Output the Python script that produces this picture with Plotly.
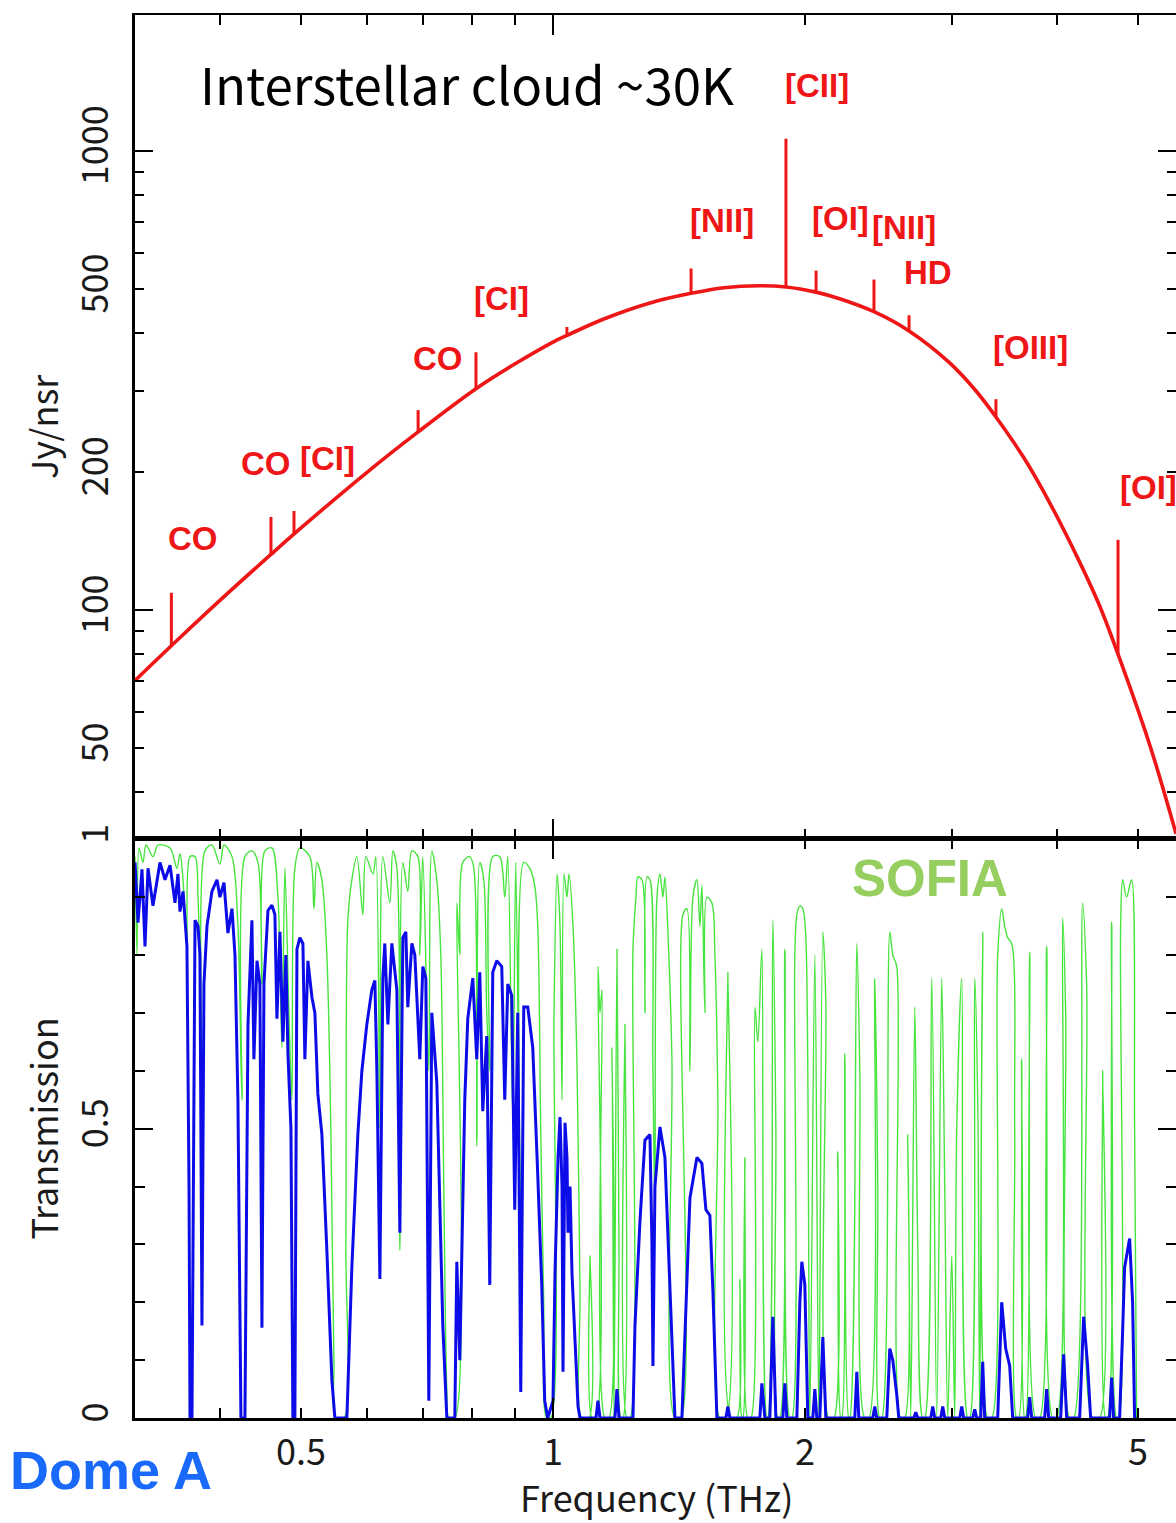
import math
import plotly.graph_objects as go

# ---------------- data ----------------
# Interstellar cloud (~30 K) continuum, Jy/nsr
CURVE_FREQ = [0.3167, 0.352, 0.400, 0.4603, 0.4984, 0.599, 0.690, 0.809, 0.900, 1.000,
              1.039, 1.150, 1.306, 1.462, 1.600, 1.767, 1.898, 2.062, 2.200, 2.418,
              2.663, 2.978, 3.200, 3.382, 3.660, 3.921, 4.258, 4.498, 4.732, 5.168, 5.551]
CURVE_FLUX = [70.1, 84.3, 104.8, 132.0, 150.0, 199.0, 244.0, 303.0, 343.0, 383.0,
              396.0, 430.0, 466.0, 489.0, 503.0, 508.0, 505.0, 492.0, 476.0, 446.0,
              405.0, 345.0, 300.0, 263.0, 213.0, 171.0, 127.0, 102.0, 80.0, 50.5, 32.5]

# Emission lines drawn as vertical bars on the continuum
LINE_FREQ = [0.350, 0.4603, 0.4904, 0.690, 0.809, 1.039, 1.462, 1.898, 2.062, 2.418, 2.663, 3.382, 4.732]
LINE_BASE = [83.6, 132.0, 145.5, 244.0, 303.0, 396.0, 489.0, 505.0, 492.0, 446.0, 405.0, 263.0, 80.0]
LINE_TOP = [108.9, 159.3, 164.1, 272.2, 363.9, 413.0, 554.0, 1062.0, 548.0, 524.0, 438.0, 287.5, 142.0]

LABEL_TEXT = ["CO", "CO", "[CI]", "CO", "[CI]", "[NII]", "[CII]", "[OI]", "[NII]", "HD", "[OIII]", "[OI]"]
LABEL_FREQ = [0.3714, 0.4540, 0.5383, 0.7284, 0.8685, 1.5913, 2.0663, 2.2072, 2.6246, 2.8036, 3.7212, 4.7265]
LABEL_FLUX = [142.7, 208.7, 214.0, 353.0, 476.9, 704.4, 1384.0, 711.5, 680.0, 543.0, 373.0, 185.1]

# SOFIA atmospheric transmission (green)
SOFIA_FREQ = [
    0.3167, 0.3184, 0.3202, 0.3237, 0.3264, 0.3328, 0.3373, 0.3487, 0.3554, 0.3584,
    0.3614, 0.3654, 0.3684, 0.3735, 0.3766, 0.3807, 0.3839, 0.3913, 0.4000, 0.4045,
    0.4135, 0.4203, 0.4250, 0.4285, 0.4368, 0.4441, 0.4490, 0.4527, 0.4615, 0.4692,
    0.4744, 0.4783, 0.4836, 0.4876, 0.4916, 0.4984, 0.5123, 0.5180, 0.5223, 0.5295,
    0.5368, 0.5427, 0.5473, 0.5503, 0.5625, 0.5656, 0.5687, 0.5750, 0.5830, 0.5927,
    0.5976, 0.6093, 0.6143, 0.6211, 0.6262, 0.6384, 0.6436, 0.6508, 0.6562, 0.6616,
    0.6707, 0.6782, 0.6895, 0.6932, 0.6990, 0.7106, 0.7165, 0.7264, 0.7344, 0.7405,
    0.7467, 0.7508, 0.7633, 0.7675, 0.7738, 0.7802, 0.7954, 0.8042, 0.8109, 0.8176,
    0.8266, 0.8334, 0.8403, 0.8473, 0.8638, 0.8757, 0.8830, 0.8952, 0.9026, 0.9151,
    0.9227, 0.9380, 0.9510, 0.9589, 0.9668, 0.9748, 0.9829, 0.9938, 1.0028, 1.0111,
    1.0194, 1.0251, 1.0307, 1.0392, 1.0450, 1.0565, 1.0682, 1.0771, 1.0830, 1.1040,
    1.1071, 1.1132, 1.1255, 1.1317, 1.1379, 1.1442, 1.1537, 1.1664, 1.1761, 1.1826,
    1.1924, 1.1990, 1.2056, 1.2122, 1.2189, 1.2256, 1.2358, 1.2460, 1.2563, 1.2632,
    1.2772, 1.2878, 1.2949, 1.3056, 1.3164, 1.3237, 1.3310, 1.3420, 1.3531, 1.3606,
    1.3718, 1.3870, 1.3985, 1.4217, 1.4296, 1.4454, 1.4574, 1.4694, 1.4857, 1.4980,
    1.5062, 1.5187, 1.5271, 1.5482, 1.5610, 1.5740, 1.5827, 1.6090, 1.6178, 1.6312,
    1.6584, 1.6721, 1.6813, 1.6859, 1.6952, 1.7093, 1.7234, 1.7425, 1.7569, 1.7763,
    1.8009, 1.8059, 1.8309, 1.8461, 1.8562, 1.8665, 1.8923, 1.9185, 1.9290, 1.9450,
    1.9558, 1.9720, 1.9883, 2.0048, 2.0269, 2.0550, 2.0777, 2.1007, 2.1181, 2.1356,
    2.1651, 2.1891, 2.2072, 2.2133, 2.2316, 2.2563, 2.2625, 2.3065, 2.3256, 2.3578,
    2.3838, 2.4235, 2.4435, 2.4570, 2.4705, 2.5255, 2.5464, 2.5745, 2.6030, 2.6318,
    2.6536, 2.6756, 2.7052, 2.7276, 2.7653, 2.7806, 2.8346, 2.8738, 2.9136, 2.9377,
    2.9620, 2.9948, 3.0196, 3.0362, 3.0783, 3.1294, 3.1467, 3.1903, 3.2167, 3.2344,
    3.2612, 3.3063, 3.3429, 3.3985, 3.4361, 3.4645, 3.4932, 3.5318, 3.5611, 3.5807,
    3.6005, 3.6302, 3.6603, 3.6704, 3.7110, 3.7727, 3.8144, 3.8885, 3.9532, 3.9969,
    4.0634, 4.0971, 4.1424, 4.1881, 4.2930, 4.3405, 4.4127, 4.4985, 4.5357, 4.5733,
    4.5985, 4.6493, 4.7137, 4.7396, 4.7658, 4.7921, 4.8450, 4.9121, 4.9528, 4.9801,
]
SOFIA_TRANS = [
    0.97, 0.80, 0.985, 0.96, 0.99, 0.97, 0.99, 0.985, 0.95, 0.975,
    0.93, 0.81, 0.97, 0.97, 0.90, 0.60, 0.98, 0.99, 0.957, 0.99,
    0.97, 0.85, 0.55, 0.97, 0.98, 0.96, 0.75, 0.98, 0.985, 0.90,
    0.64, 0.95, 0.70, 0.55, 0.95, 0.985, 0.97, 0.88, 0.96, 0.93,
    0.80, 0.50, 0.10, 0.0, 0.0, 0.30, 0.86, 0.93, 0.97, 0.87,
    0.97, 0.94, 0.97, 0.50, 0.97, 0.89, 0.98, 0.95, 0.29, 0.96,
    0.91, 0.98, 0.97, 0.80, 0.97, 0.60, 0.98, 0.93, 0.80, 0.40,
    0.05, 0.0, 0.0, 0.89, 0.80, 0.96, 0.97, 0.95, 0.47, 0.96,
    0.93, 0.70, 0.60, 0.97, 0.97, 0.90, 0.97, 0.52, 0.96, 0.30,
    0.96, 0.95, 0.92, 0.85, 0.50, 0.20, 0.0, 0.0, 0.70, 0.94,
    0.85, 0.55, 0.94, 0.90, 0.94, 0.85, 0.61, 0.22, 0.0, 0.0,
    0.28, 0.0, 0.0, 0.78, 0.70, 0.74, 0.0, 0.0, 0.64, 0.0,
    0.81, 0.30, 0.0, 0.0, 0.68, 0.0, 0.0, 0.81, 0.90, 0.935,
    0.93, 0.70, 0.935, 0.93, 0.60, 0.35, 0.90, 0.94, 0.90, 0.935,
    0.84, 0.62, 0.0, 0.0, 0.87, 0.88, 0.60, 0.90, 0.93, 0.85,
    0.92, 0.70, 0.90, 0.89, 0.80, 0.55, 0.0, 0.0, 0.77, 0.0,
    0.0, 0.24, 0.0, 0.0, 0.45, 0.0, 0.0, 0.71, 0.65, 0.81,
    0.0, 0.0, 0.86, 0.50, 0.0, 0.0, 0.81, 0.0, 0.0, 0.80,
    0.87, 0.885, 0.88, 0.83, 0.0, 0.80, 0.0, 0.84, 0.72, 0.0,
    0.0, 0.46, 0.0, 0.0, 0.63, 0.0, 0.0, 0.82, 0.60, 0.0,
    0.0, 0.76, 0.40, 0.0, 0.0, 0.84, 0.80, 0.78, 0.0, 0.0,
    0.49, 0.0, 0.71, 0.30, 0.0, 0.0, 0.76, 0.0, 0.76, 0.40,
    0.0, 0.28, 0.0, 0.50, 0.76, 0.0, 0.0, 0.76, 0.55, 0.0,
    0.84, 0.0, 0.0, 0.80, 0.88, 0.85, 0.83, 0.82, 0.50, 0.0,
    0.0, 0.62, 0.0, 0.0, 0.805, 0.0, 0.0, 0.815, 0.0, 0.0,
    0.864, 0.70, 0.0, 0.0, 0.89, 0.75, 0.0, 0.0, 0.60, 0.0,
    0.0, 0.857, 0.0, 0.0, 0.85, 0.93, 0.90, 0.93, 0.50, 0.0,
]

# Dome A atmospheric transmission (blue)
DOMEA_FREQ = [
    0.3167, 0.3193, 0.3228, 0.3255, 0.3282, 0.3327, 0.3392, 0.3439, 0.3487, 0.3535,
    0.3564, 0.3584, 0.3614, 0.3653, 0.3674, 0.3684, 0.3704, 0.3724, 0.3735, 0.3766,
    0.3786, 0.3807, 0.3828, 0.3860, 0.3913, 0.3968, 0.4000, 0.4045, 0.4089, 0.4135,
    0.4169, 0.4203, 0.4238, 0.4285, 0.4321, 0.4368, 0.4392, 0.4429, 0.4465, 0.4490,
    0.4515, 0.4565, 0.4615, 0.4653, 0.4679, 0.4718, 0.4757, 0.4796, 0.4823, 0.4863,
    0.4889, 0.4916, 0.4944, 0.4984, 0.5026, 0.5053, 0.5095, 0.5152, 0.5194, 0.5237,
    0.5295, 0.5368, 0.5443, 0.5488, 0.5672, 0.5750, 0.5846, 0.5911, 0.5992, 0.6075,
    0.6126, 0.6160, 0.6211, 0.6262, 0.6296, 0.6349, 0.6419, 0.6508, 0.6562, 0.6616,
    0.6671, 0.6707, 0.6782, 0.6838, 0.6932, 0.6990, 0.7048, 0.7106, 0.7165, 0.7264,
    0.7324, 0.7385, 0.7467, 0.7633, 0.7675, 0.7738, 0.7845, 0.7910, 0.8020, 0.8108,
    0.8176, 0.8243, 0.8334, 0.8403, 0.8473, 0.8567, 0.8685, 0.8757, 0.8830, 0.8927,
    0.9001, 0.9076, 0.9151, 0.9227, 0.9329, 0.9458, 0.9589, 0.9695, 0.9775, 0.9856,
    1.0000, 1.0055, 1.0139, 1.0194, 1.0251, 1.0279, 1.0336, 1.0392, 1.0421, 1.0479,
    1.0536, 1.0624, 1.0712, 1.0771, 1.1255, 1.1317, 1.1379, 1.1858, 1.1924, 1.1990,
    1.2460, 1.2529, 1.2702, 1.2878, 1.3056, 1.3128, 1.3164, 1.3237, 1.3420, 1.3606,
    1.3718, 1.3870, 1.3985, 1.4257, 1.4454, 1.4574, 1.4857, 1.5062, 1.5229, 1.5397,
    1.5525, 1.5696, 1.6090, 1.6178, 1.6268, 1.7666, 1.7763, 1.7911, 1.8158, 1.8309,
    1.8461, 1.8819, 1.8923, 1.9027, 1.9558, 1.9720, 1.9828, 1.9992, 2.0158, 2.0437,
    2.0550, 2.0663, 2.0834, 2.1007, 2.1181, 2.2938, 2.3065, 2.3192, 2.4102, 2.4235,
    2.4368, 2.5048, 2.5255, 2.5464, 2.5745, 2.5888, 2.6977, 2.7126, 2.7276, 2.8268,
    2.8424, 2.8581, 2.9056, 2.9216, 2.9377, 3.0614, 3.0783, 3.0952, 3.1727, 3.1903,
    3.2078, 3.2433, 3.2612, 3.2792, 3.3985, 3.4361, 3.4741, 3.5125, 3.5416, 3.6906,
    3.7110, 3.7315, 3.8672, 3.8885, 3.9100, 4.0411, 4.0746, 4.1083, 4.2578, 4.3049,
    4.3525, 4.3885, 4.6238, 4.6493, 4.6750, 4.7527, 4.7921, 4.8185, 4.8852, 4.9256,
    4.9528, 4.9801,
]
DOMEA_TRANS = [
    0.96, 0.856, 0.948, 0.815, 0.95, 0.885, 0.96, 0.93, 0.955, 0.89,
    0.94, 0.875, 0.91, 0.815, 0.40, 0.0, 0.0, 0.60, 0.86, 0.85,
    0.80, 0.16, 0.75, 0.85, 0.91, 0.93, 0.90, 0.925, 0.838, 0.88,
    0.80, 0.55, 0.0, 0.0, 0.68, 0.86, 0.62, 0.79, 0.75, 0.156,
    0.75, 0.877, 0.886, 0.87, 0.69, 0.84, 0.65, 0.80, 0.63, 0.50,
    0.0, 0.0, 0.81, 0.83, 0.82, 0.62, 0.79, 0.727, 0.70, 0.56,
    0.49, 0.29, 0.065, 0.0, 0.0, 0.26, 0.49, 0.60, 0.68, 0.74,
    0.756, 0.60, 0.24, 0.76, 0.82, 0.68, 0.82, 0.74, 0.32, 0.83,
    0.84, 0.71, 0.82, 0.80, 0.62, 0.78, 0.76, 0.03, 0.70, 0.58,
    0.39, 0.16, 0.0, 0.0, 0.27, 0.10, 0.55, 0.69, 0.76, 0.62,
    0.77, 0.53, 0.66, 0.23, 0.77, 0.79, 0.78, 0.55, 0.75, 0.73,
    0.36, 0.70, 0.045, 0.71, 0.71, 0.64, 0.42, 0.23, 0.03, 0.0,
    0.03, 0.25, 0.45, 0.52, 0.40, 0.08, 0.51, 0.45, 0.32, 0.40,
    0.25, 0.12, 0.02, 0.0, 0.0, 0.03, 0.0, 0.0, 0.05, 0.0,
    0.0, 0.16, 0.34, 0.48, 0.49, 0.30, 0.09, 0.40, 0.503, 0.45,
    0.32, 0.16, 0.0, 0.0, 0.23, 0.38, 0.45, 0.44, 0.36, 0.35,
    0.22, 0.0, 0.0, 0.02, 0.0, 0.0, 0.06, 0.0, 0.0, 0.175,
    0.0, 0.0, 0.06, 0.0, 0.0, 0.20, 0.27, 0.23, 0.0, 0.0,
    0.05, 0.0, 0.0, 0.14, 0.0, 0.0, 0.08, 0.0, 0.0, 0.02,
    0.0, 0.0, 0.12, 0.10, 0.04, 0.0, 0.0, 0.01, 0.0, 0.0,
    0.02, 0.0, 0.0, 0.02, 0.0, 0.0, 0.02, 0.0, 0.0, 0.015,
    0.0, 0.0, 0.097, 0.0, 0.0, 0.20, 0.12, 0.09, 0.0, 0.0,
    0.036, 0.0, 0.0, 0.05, 0.0, 0.0, 0.11, 0.0, 0.0, 0.175,
    0.09, 0.0, 0.0, 0.07, 0.0, 0.0, 0.15, 0.26, 0.31, 0.20,
    0.0, 0.0,
]

X_TICKS = [0.5, 1, 2, 5]
X_TICK_TEXT = ["0.5", "1", "2", "5"]
X_MINOR = [0.4, 0.6, 0.7, 0.8, 0.9, 3, 4]
FLUX_TICKS = [50, 100, 200, 500, 1000]
FLUX_TICK_TEXT = ["50", "100", "200", "500", "1000"]
FLUX_MINOR = [40, 60, 70, 80, 90, 300, 400, 600, 700, 800, 900]
FLUX_DECADES = [100, 1000]
TRANS_TICKS = [0, 0.5, 1]
TRANS_TICK_TEXT = ["0", "0.5", "1"]

# ---------------- styling ----------------
RED = "rgb(238,22,22)"
BLUE = "rgb(12,12,232)"
GREEN = "rgb(72,228,62)"
SANS = "Noto Sans CJK JP, Noto Sans, sans-serif"
TICK_FONT = dict(family=SANS, size=36, color="#1a1a1a")
LABEL_FAMILY = "Liberation Sans Narrow, Arial Narrow, Liberation Sans, sans-serif"

X_RANGE = [-0.4994, 0.7443]
FLUX_RANGE = [1.5, 3.2957]
SPLIT = 0.4125

fig = go.Figure()

fig.add_trace(go.Scatter(x=SOFIA_FREQ, y=SOFIA_TRANS, mode="lines",
                         line=dict(color=GREEN, width=1.4, shape="spline", smoothing=0.9),
                         xaxis="x", yaxis="y", hoverinfo="skip", showlegend=False))
fig.add_trace(go.Scatter(x=DOMEA_FREQ, y=DOMEA_TRANS, mode="lines",
                         line=dict(color=BLUE, width=3.0),
                         xaxis="x", yaxis="y", hoverinfo="skip", showlegend=False))

fig.add_trace(go.Scatter(x=CURVE_FREQ, y=CURVE_FLUX, mode="lines",
                         line=dict(color=RED, width=3.6, shape="spline", smoothing=1.0),
                         xaxis="x2", yaxis="y2", hoverinfo="skip", showlegend=False))
lx, ly = [], []
for f, b, t in zip(LINE_FREQ, LINE_BASE, LINE_TOP):
    lx += [f, f, None]
    ly += [b, t, None]
fig.add_trace(go.Scatter(x=lx, y=ly, mode="lines", line=dict(color=RED, width=3),
                         xaxis="x2", yaxis="y2", hoverinfo="skip", showlegend=False))

# empty traces so that the extra tick-only axes are drawn
for xa, ya in [("x3", "y"), ("x", "y3"), ("x4", "y2"), ("x2", "y4"), ("x2", "y5")]:
    fig.add_trace(go.Scatter(x=[], y=[], xaxis=xa, yaxis=ya, showlegend=False, hoverinfo="skip"))

base_x = dict(type="log", range=X_RANGE, showgrid=False, zeroline=False,
              ticks="inside", tickcolor="black", tickwidth=2, ticklen=10)

fig.update_layout(
    width=1176, height=1523,
    margin=dict(l=135, r=0, t=12, b=105),
    paper_bgcolor="white", plot_bgcolor="white",
    showlegend=False,
    xaxis=dict(**base_x, anchor="y", domain=[0, 1], tickvals=X_TICKS, ticktext=X_TICK_TEXT,
               tickfont=TICK_FONT, showline=True, linecolor="black", linewidth=2.5, mirror="ticks",
               minor=dict(tickvals=X_MINOR, ticks="inside", ticklen=10, tickwidth=2, tickcolor="black"),
               ticklabelstandoff=1),
    xaxis2=dict(**base_x, anchor="y2", domain=[0, 1], matches="x", tickvals=X_TICKS, showticklabels=False,
                showline=True, linecolor="black", linewidth=2.0, mirror="ticks",
                minor=dict(tickvals=X_MINOR, ticks="inside", ticklen=10, tickwidth=2, tickcolor="black")),
    xaxis3=dict(type="log", range=X_RANGE, overlaying="x", anchor="y", tickvals=[1], ticks="inside",
                ticklen=20, tickwidth=2, tickcolor="black", showticklabels=False, showline=False,
                showgrid=False, zeroline=False, mirror="ticks"),
    xaxis4=dict(type="log", range=X_RANGE, overlaying="x2", anchor="y2", tickvals=[1], ticks="inside",
                ticklen=20, tickwidth=2, tickcolor="black", showticklabels=False, showline=False,
                showgrid=False, zeroline=False, mirror="ticks"),
    yaxis=dict(domain=[0, SPLIT], range=[0, 1], anchor="x", tickvals=TRANS_TICKS, ticktext=TRANS_TICK_TEXT,
               ticks="inside", ticklen=18, tickwidth=2, tickcolor="black", tickangle=-90,
               tickfont=TICK_FONT, showline=True, linecolor="black", linewidth=2.5,
               showgrid=False, zeroline=False,
               minor=dict(dtick=0.1, tick0=0, ticks="inside", ticklen=10, tickwidth=2, tickcolor="black"),
               ticklabelstandoff=10),
    yaxis3=dict(range=[0, 1], overlaying="y", side="right", anchor="x", tickvals=TRANS_TICKS,
                ticks="inside", ticklen=18, tickwidth=2, tickcolor="black", showticklabels=False,
                showline=False, showgrid=False, zeroline=False,
                minor=dict(dtick=0.1, tick0=0, ticks="inside", ticklen=10, tickwidth=2, tickcolor="black")),
    yaxis2=dict(type="log", domain=[SPLIT, 1], range=FLUX_RANGE, anchor="x2", tickvals=FLUX_TICKS,
                ticktext=FLUX_TICK_TEXT, ticks="inside", ticklen=9, tickwidth=2, tickcolor="black",
                tickangle=-90, tickfont=TICK_FONT, showline=True, linecolor="black", linewidth=2.5,
                showgrid=False, zeroline=False,
                minor=dict(tickvals=FLUX_MINOR, ticks="inside", ticklen=9, tickwidth=2, tickcolor="black"),
                ticklabelstandoff=10),
    yaxis4=dict(type="log", range=FLUX_RANGE, overlaying="y2", side="left", anchor="x2",
                tickvals=FLUX_DECADES, ticks="inside", ticklen=18, tickwidth=2, tickcolor="black",
                showticklabels=False, showline=False, showgrid=False, zeroline=False),
    yaxis5=dict(type="log", range=FLUX_RANGE, overlaying="y2", side="right", anchor="x2",
                tickvals=FLUX_DECADES, ticks="inside", ticklen=18, tickwidth=2, tickcolor="black",
                showticklabels=False, showline=False, showgrid=False, zeroline=False,
                minor=dict(tickvals=FLUX_MINOR + [50, 200, 500], ticks="inside", ticklen=9,
                           tickwidth=2, tickcolor="black")),
)

# line labels
for txt, f, v in zip(LABEL_TEXT, LABEL_FREQ, LABEL_FLUX):
    anchor = "left" if txt == "[OI]" and f > 4 else "center"
    fig.add_annotation(x=math.log10(f), y=math.log10(v), xref="x2", yref="y2", text="<b>" + txt + "</b>",
                       showarrow=False, xanchor=anchor, yanchor="middle",
                       font=dict(family=LABEL_FAMILY, size=33, color=RED))

fig.add_annotation(x=math.log10(0.3770), y=math.log10(1405), xref="x2", yref="y2",
                   text="Interstellar cloud ~30K", showarrow=False, xanchor="left", yanchor="middle",
                   font=dict(family=SANS, size=51, color="black"))
fig.add_annotation(x=math.log10(2.819), y=0.933, xref="x", yref="y", text="<b>SOFIA</b>",
                   showarrow=False, xanchor="center", yanchor="middle",
                   font=dict(family="Liberation Sans, Arial, sans-serif", size=51, color="rgb(150,206,96)"))
fig.add_annotation(x=-0.023, y=-0.037, xref="paper", yref="paper", text="<b>Dome A</b>",
                   showarrow=False, xanchor="center", yanchor="middle",
                   font=dict(family="Liberation Sans, Arial, sans-serif", size=54, color="rgb(25,105,250)"))

TITLE_FONT = dict(family=SANS, size=36, color="#1a1a1a")
fig.add_annotation(x=-0.0893, y=0.7063, xref="paper", yref="paper", text="Jy/nsr", textangle=-90,
                   showarrow=False, xanchor="center", yanchor="middle", font=TITLE_FONT)
fig.add_annotation(x=-0.0893, y=0.2063, xref="paper", yref="paper", text="Transmission", textangle=-90,
                   showarrow=False, xanchor="center", yanchor="middle", font=TITLE_FONT)
fig.add_annotation(x=0.5014, y=-0.0555, xref="paper", yref="paper", text="Frequency (THz)",
                   showarrow=False, xanchor="center", yanchor="middle", font=TITLE_FONT, borderpad=0)

fig.write_html("out.html", config={"displayModeBar": False})
